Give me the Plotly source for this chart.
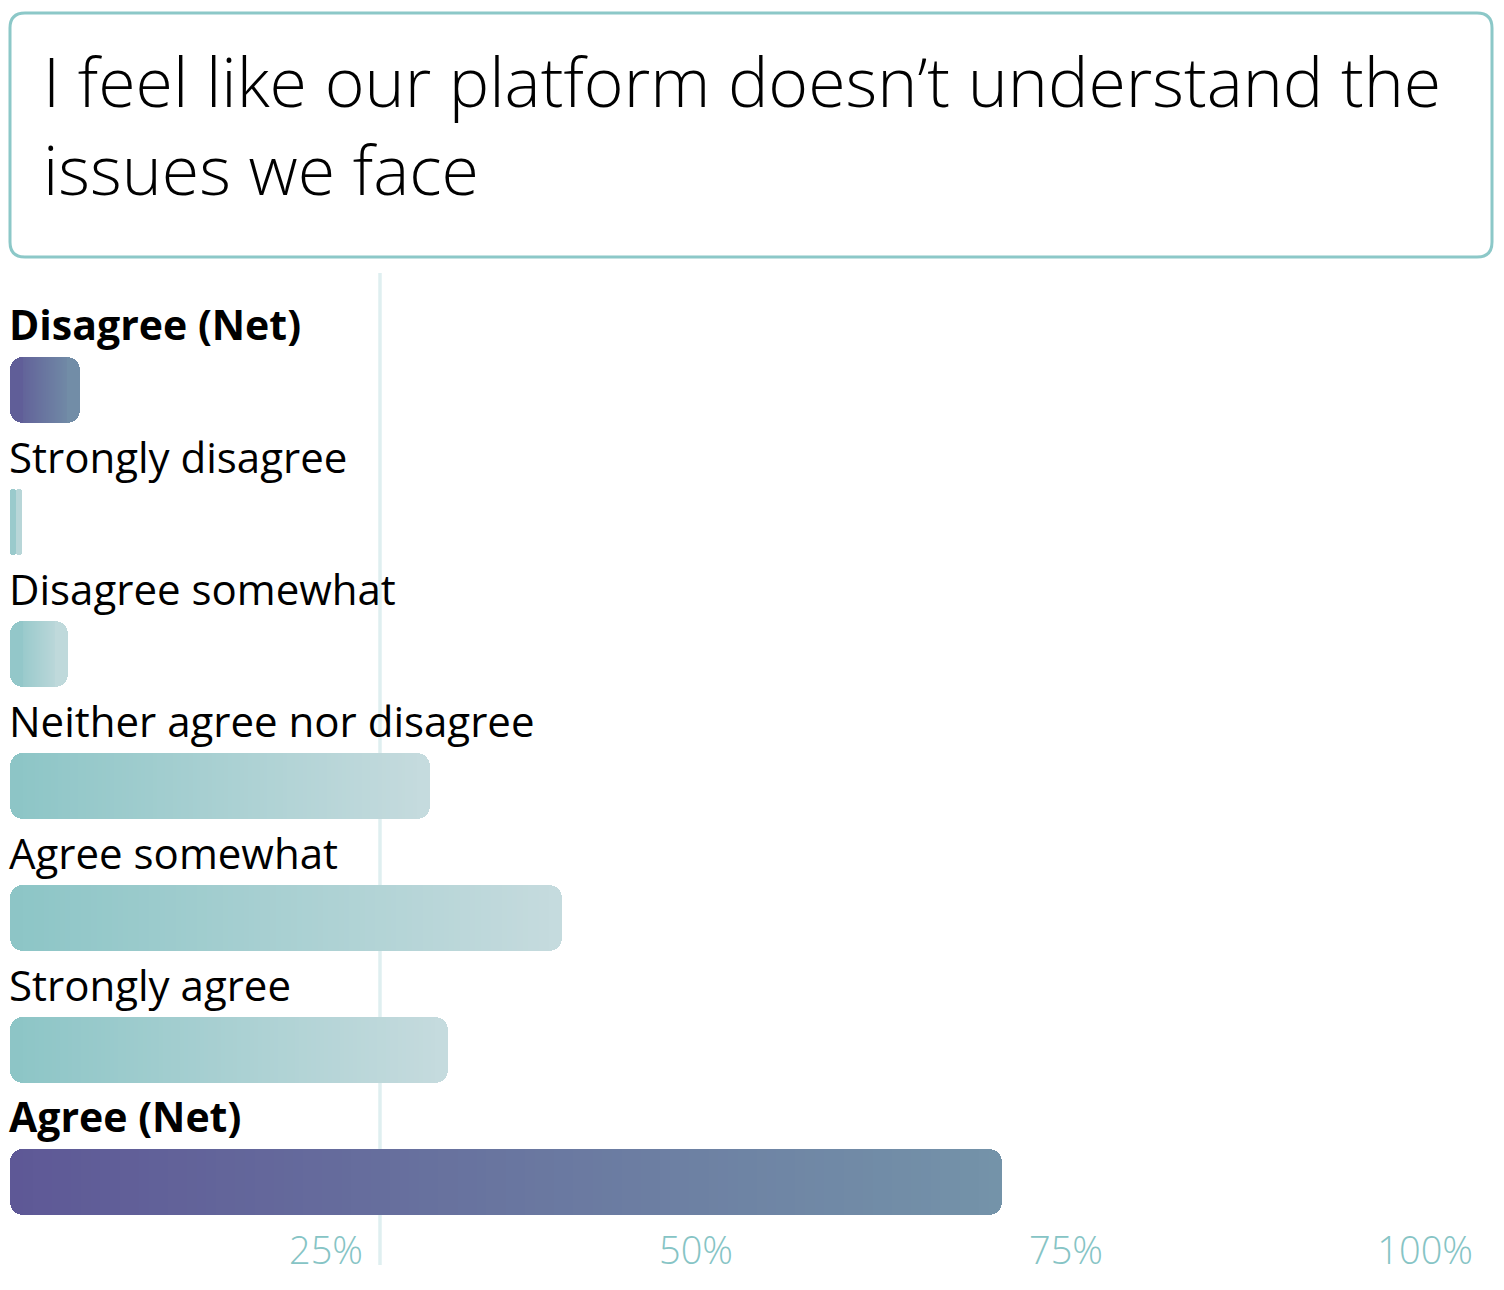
import plotly.graph_objects as go

# ---------------- data ----------------
categories = ["Disagree (Net)", "Strongly disagree", "Disagree somewhat",
              "Neither agree nor disagree", "Agree somewhat", "Strongly agree",
              "Agree (Net)"]
values = [4.7, 0.8, 3.9, 28.4, 37.3, 29.6, 67.0]
is_net = [True, False, False, False, False, False, True]
tick_values = [25, 50, 75, 100]
tick_labels = ["25%", "50%", "75%", "100%"]
title_text = "I feel like our platform doesn\u2019t understand the<br>issues we face"

# ---------------- style ----------------
TEAL_A, TEAL_B = (0x8C, 0xC5, 0xC6), (0xC6, 0xDB, 0xDE)
PURP_A, PURP_B = (0x5E, 0x58, 0x96), (0x74, 0x93, 0xA9)
BORDER = "#8CC8C8"
GRID = "#DFEFF0"
FONT = "Open Sans"
N_SEG = 100
RADIUS = 13
PX_PER_UNIT = 14.8
EDGE = RADIUS / PX_PER_UNIT

def mix(a, b, t):
    t = max(0.0, min(1.0, t))
    return "rgb(%d,%d,%d)" % tuple(round(a[i] + (b[i] - a[i]) * t) for i in range(3))

def colors_at(frac_list):
    out = []
    for f, net in zip(frac_list, is_net):
        a, b = (PURP_A, PURP_B) if net else (TEAL_A, TEAL_B)
        out.append(mix(a, b, f))
    return out

ypos = list(range(len(categories)))
fig = go.Figure()
common = dict(orientation="h", y=ypos, width=0.5, hoverinfo="skip",
              showlegend=False, marker_line_width=0)

edges = [min(EDGE, v / 2) for v in values]

# rounded halves underneath (left half drawn as a negative bar -> rounded on the left)
fig.add_trace(go.Bar(x=[-v / 2 for v in values], base=[v / 2 for v in values],
                     marker=dict(color=colors_at([e / 2 / v for e, v in zip(edges, values)]),
                                 cornerradius=RADIUS), **common))
fig.add_trace(go.Bar(x=[v / 2 for v in values], base=[v / 2 for v in values],
                     marker=dict(color=colors_at([1 - e / 2 / v for e, v in zip(edges, values)]),
                                 cornerradius=RADIUS), **common))
# gradient segments on top of the flat middle part
ov = 0.05
for k in range(N_SEG):
    bases, lens, fr = [], [], []
    for e, v in zip(edges, values):
        span = v - 2 * e
        s = span / N_SEG
        b0 = e + k * s
        bases.append(b0)
        lens.append(s + (min(ov, s) if k < N_SEG - 1 else 0))
        fr.append((b0 + s / 2) / v)
    fig.add_trace(go.Bar(x=lens, base=bases,
                         marker=dict(color=colors_at(fr), cornerradius=0), **common))

# category labels above bars
for i, (lab, net) in enumerate(zip(categories, is_net)):
    fig.add_annotation(x=0, y=i, xref="x", yref="y", xanchor="left", yanchor="middle",
                       text=("<b>%s</b>" % lab) if net else lab, showarrow=False,
                       xshift=-3, yshift=66,
                       font=dict(family=FONT, size=41 if net else 42, color="#000000"))

# title box + title
px_w, px_h = 1480.0, 992.0
x0, x1 = 0.0, (1492 - 10) / px_w
y0, y1 = 1 + (273 - 257) / px_h, 1 + (273 - 13) / px_h
rx, ry = 15 / px_w, 15 / px_h
path = (f"M {x0+rx},{y1} L {x1-rx},{y1} Q {x1},{y1} {x1},{y1-ry} "
        f"L {x1},{y0+ry} Q {x1},{y0} {x1-rx},{y0} L {x0+rx},{y0} "
        f"Q {x0},{y0} {x0},{y0+ry} L {x0},{y1-ry} Q {x0},{y1} {x0+rx},{y1} Z")
fig.add_shape(type="path", path=path, xref="paper", yref="paper",
              line=dict(color=BORDER, width=3), fillcolor="rgba(0,0,0,0)")
fig.add_annotation(x=(41 - 10) / px_w, y=1 + (273 - 124) / px_h, xref="paper", yref="paper",
                   xanchor="left", yanchor="middle", align="left", showarrow=False,
                   text=title_text, font=dict(family=FONT, size=68, color="#000000", weight=300))

# single 25% guide line
fig.add_shape(type="line", x0=25, x1=25, y0=0, y1=1, xref="x", yref="paper",
              line=dict(color=GRID, width=3.5), layer="below")

fig.update_layout(
    width=1504, height=1290,
    margin=dict(l=10, r=14, t=273, b=25),
    paper_bgcolor="white", plot_bgcolor="white",
    barmode="overlay", bargap=0,
    xaxis=dict(range=[0, 100], tickvals=tick_values, ticktext=tick_labels,
               showgrid=False, zeroline=False, showline=False, ticks="",
               ticklabelposition="inside left", ticklabelshift=-17, ticklabelstandoff=-13,
               tickfont=dict(family="Open Sans", size=38, color="#86C4C5", weight=300),
               fixedrange=True),
    yaxis=dict(range=[6.629, -0.890], visible=False, fixedrange=True),
)

fig.write_html("out.html")
